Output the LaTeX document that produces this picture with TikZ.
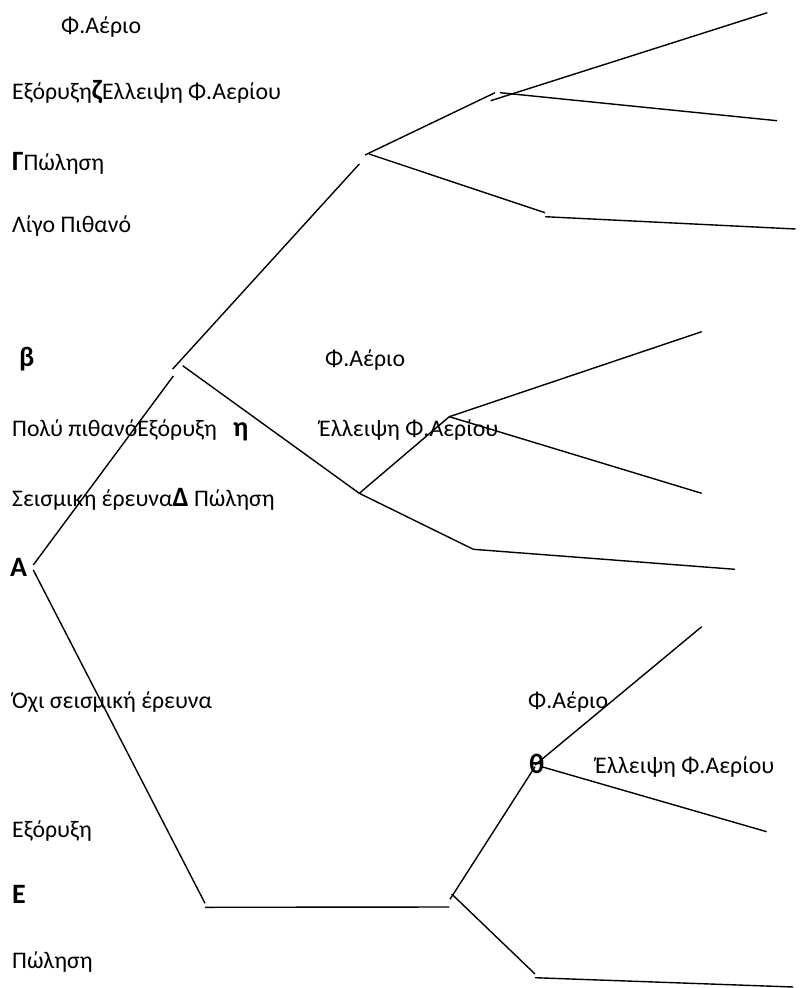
\documentclass[tikz,border=0pt]{standalone}
\usepackage{fontspec}
\setmainfont{Carlito}
\newcommand{\bigb}[1]{{\fontsize{28}{32}\selectfont\bfseries #1}}
\begin{document}
\begin{tikzpicture}[x=1pt,y=-1pt,
  lbl/.style={anchor=base west,inner sep=0pt,font=\fontsize{23.8}{28}\selectfont},
  edge/.style={line width=1.4pt,line cap=butt}]
\useasboundingbox (0,0) rectangle (811,988);
% labels
\node[lbl] (t1) at (61,33.5) {Φ.Αέριο};
\node[lbl] (t2) at (12,99.3) {Εξόρυξη\bigb{ζ}Ελλειψη Φ.Αερίου};
\node[lbl] (t3) at (12,170) {\bigb{Γ}Πώληση};
\node[lbl] (t4) at (12,232.7) {Λίγο Πιθανό};
\node[lbl] (t5) at (19,366.5) {\bigb{β}};
\node[lbl] (t6) at (325,366.7) {Φ.Αέριο};
\node[lbl] (t7) at (12,436.7) {Πολύ πιθανόΕξόρυξη};
\node[lbl] (t7b) at (233,436.7) {\bigb{η}};
\node[lbl] (t8) at (319,436.7) {Έλλειψη Φ.Αερίου};
\node[lbl] (t9) at (12,506) {Σεισμικη έρευνα\bigb{Δ} Πώληση};
\node[lbl] (t10) at (10,576.7) {\bigb{Α}};
\node[lbl] (t11) at (12,708.3) {Όχι σεισμική έρευνα};
\node[lbl] (t12) at (12,837.3) {Εξόρυξη};
\node[lbl] (t13) at (12,903.5) {\bigb{Ε}};
\node[lbl] (t14) at (12,968.4) {Πώληση};
\node[lbl] (t15) at (528,708.3) {Φ.Αέριο};
\node[lbl] (t16) at (529,773.3) {\bigb{θ}};
\node[lbl] (t17) at (595,773.3) {Έλλειψη Φ.Αερίου};
% coordinates
\coordinate (a1) at (490.7,100.7); \coordinate (a2) at (767.3,12.7);
\coordinate (b1) at (500,92.7);    \coordinate (b2) at (777,120.7);
\coordinate (c1) at (365,155);     \coordinate (c2) at (495,92.7);
\coordinate (d1) at (369,154);     \coordinate (d2) at (545,212.7);
\coordinate (e1) at (545,216.7);   \coordinate (e2) at (795.7,229);
\coordinate (f1) at (172.7,369);   \coordinate (f2) at (359.3,164);
\coordinate (g1) at (33.3,565);    \coordinate (g2) at (173.3,376);
\coordinate (h1) at (182.7,365.7); \coordinate (H) at (359.3,493.3);
\coordinate (I) at (449.3,416.7);
\coordinate (i2) at (701.7,331.7); \coordinate (i3) at (701.7,493.3);
\coordinate (j1) at (473.3,549.3); \coordinate (j2) at (735,569.3);
\coordinate (k1) at (33.3,570);    \coordinate (k2) at (205,903.3);
\coordinate (l1) at (205,907.3);   \coordinate (l2) at (449.3,907);
\coordinate (m1) at (450,899.3);   \coordinate (m2) at (535,766.7);
\coordinate (n1) at (535,765);     \coordinate (n2) at (701.7,626.7);
\coordinate (o1) at (541.7,766.7); \coordinate (o2) at (766.7,831.7);
\coordinate (p1) at (451.7,894);   \coordinate (p2) at (535,974);
\coordinate (q1) at (535,977.7);   \coordinate (q2) at (793.3,987);
% lines
\draw[edge] (a1) -- (a2);
\draw[edge] (b1) -- (b2);
\draw[edge] (c1) -- (c2);
\draw[edge] (d1) -- (d2);
\draw[edge] (e1) -- (e2);
\draw[edge] (f1) -- (f2);
\draw[edge] (g1) -- (g2);
\draw[edge] (h1) -- (H);
\draw[edge] (H) -- (I);
\draw[edge] (I) -- (i2);
\draw[edge] (I) -- (i3);
\draw[edge] (H) -- (j1);
\draw[edge] (j1) -- (j2);
\draw[edge] (k1) -- (k2);
\draw[edge] (l1) -- (l2);
\draw[edge] (m1) -- (m2);
\draw[edge] (n1) -- (n2);
\draw[edge] (o1) -- (o2);
\draw[edge] (p1) -- (p2);
\draw[edge] (q1) -- (q2);
\end{tikzpicture}
\end{document}
